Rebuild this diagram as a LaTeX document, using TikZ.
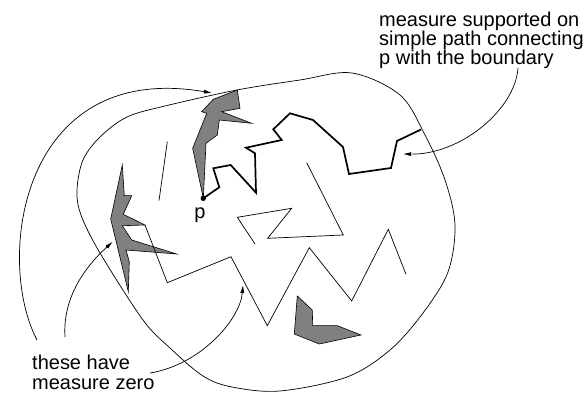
\documentclass[tikz,border=0pt]{standalone}
\usepackage{fontspec}
\setmainfont{Liberation Sans}
\usetikzlibrary{arrows.meta}

\begin{document}
\begin{tikzpicture}[x=1pt,y=-1pt,
  thinline/.style={line width=0.7pt},
  thickline/.style={line width=1.7pt},
  blob/.style={fill=gray,draw=black,line width=0.6pt},
  pointer/.style={line width=0.7pt,-{Latex[length=8pt,width=4pt]}},
  notetext/.style={inner sep=0pt,align=left}]
\useasboundingbox (0,0) rectangle (587,395);

% the domain
\draw[thinline] plot[smooth cycle,tension=0.55] coordinates {
  (300,80) (352,73) (400,95) (425,135) (445,180) (455,225) (448,272)
  (423,313) (390,350) (347,377) (280,391) (232,387) (203,376) (170,348)
  (143,320) (100,253) (81,215) (77,190) (83,160) (100,137) (127,117)
  (165,106) (237,90)};

% gray sets
\draw[blob] (203.3,198.3) -- (192.7,148.3) -- (206.7,113.3) -- (201.7,111.7)
  -- (213.3,99.3) -- (237.3,90) -- (240,108.3) -- (221.7,111.7) -- (251.7,123.3)
  -- (219.3,120) -- (217.3,135) -- (206,143.3) -- cycle;
\draw[blob] (122.3,165) -- (124.3,195.7) -- (131.7,195.7) -- (123.3,214.3)
  -- (145,225) -- (122.3,225.7) -- (131.7,240) -- (176.7,254) -- (126,250)
  -- (129.3,261.7) -- (128.3,291.7) -- (110.7,219) -- cycle;
\draw[blob] (297.3,296) -- (312.3,310) -- (312.7,325.7) -- (337.3,325.7)
  -- (361,335) -- (319.3,344) -- (294.3,334) -- cycle;

% thin segments
\draw[thinline] (167.3,141.7) -- (159,200.7);
\draw[thinline] (255,244) -- (237.3,217.3) -- (291.7,208.3) -- (267.7,238.3)
  -- (343.3,235) -- (306.7,162.7);
\draw[thinline] (145,225) -- (167.3,282.7) -- (231,256.7) -- (267.3,325.7)
  -- (309.3,247.7) -- (351.7,301) -- (388.3,229.3) -- (406,274.3);

% path from p to the boundary
\coordinate (p) at (203.3,198.3);
\draw[thickline] (p) -- (219.3,187.3) -- (213.3,168.3) -- (230.7,165)
  -- (256,192.7) -- (255,153.3) -- (246,147.7) -- (281.7,140) -- (273.3,129.3)
  -- (290,113.3) -- (313,120) -- (343,147) -- (349,174) -- (391,168)
  -- (397,141) -- (421,129.5);
\fill (p) circle (2.7);
\node[notetext,anchor=base] (plabel) at (200,219) {\fontsize{20}{20}\selectfont p};

% texts
\node[notetext,anchor=north west,font=\fontsize{20}{20}\selectfont] (zero) at (32,354.5)
  {these have\\measure zero};
\node[notetext,anchor=north west,font=\fontsize{20}{19}\selectfont] (supp) at (379,11.5)
  {measure supported on\\simple path connecting\\p with the boundary};

% arrows
\coordinate (zA) at (37,340);
\coordinate (zB) at (65,337);
\coordinate (zC) at (150,373);
\coordinate (sD) at (518,68);
\coordinate (tA) at (212,93);
\coordinate (tB) at (112.7,241.7);
\coordinate (tC) at (243,285);
\coordinate (tD) at (403,154);
\draw[pointer] (zA) .. controls (-5,260) and (20,60) .. (tA);
\draw[pointer] (zB) .. controls (62,290) and (95,258) .. (tB);
\draw[pointer] (zC) .. controls (200,365) and (240,320) .. (tC);
\draw[pointer] (sD) .. controls (515,110) and (460,155) .. (tD);
\end{tikzpicture}
\end{document}
